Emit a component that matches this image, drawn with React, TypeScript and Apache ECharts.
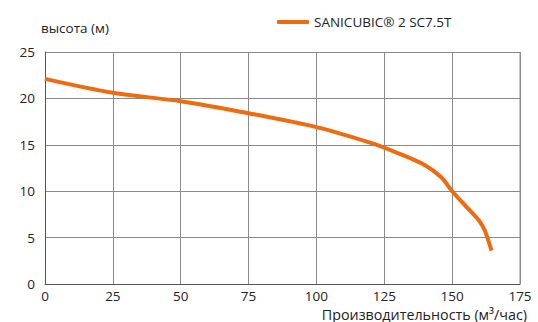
import React, { useEffect, useRef } from "react";
import * as echarts from "echarts";

const flowValues = [0, 25, 50, 75, 100, 120, 130, 140, 146, 150, 155, 160, 162, 164.5];
const headValues = [22.1, 20.6, 19.7, 18.4, 16.9, 15.2, 14.1, 12.8, 11.5, 10.0, 8.4, 6.8, 5.8, 3.6];
const seriesName = "SANICUBIC® 2 SC7.5T";
const yAxisTitle = "высота (м)";
const xAxisTitle = "Производительность (м³/час)";

const FONT = "'Open Sans', 'Noto Sans', sans-serif";

export default function App() {
  const ref = useRef<HTMLDivElement>(null);
  useEffect(() => {
    if (!ref.current) return;
    const chart = echarts.init(ref.current, null, { renderer: "svg" });
    chart.setOption({
      animation: false,
      textStyle: { fontFamily: FONT },
      legend: {
        top: 10,
        left: 272,
        itemWidth: 32,
        itemHeight: 4,
        itemGap: 10,
        icon: "roundRect",
        textStyle: { fontSize: 13.5, color: "#222", fontFamily: FONT },
        data: [{ name: seriesName, icon: "roundRect" }],
      },
      grid: { left: 45, right: 18, top: 52, bottom: 38 },
      xAxis: {
        type: "value",
        min: 0,
        max: 175,
        interval: 25,
        axisLine: { show: true, lineStyle: { color: "#555", width: 1 } },
        axisTick: { show: false },
        axisLabel: { fontSize: 13.5, color: "#222", margin: 5, fontFamily: FONT },
        splitLine: { show: true, lineStyle: { color: "#8a8a8a", width: 1 } },
      },
      yAxis: {
        type: "value",
        min: 0,
        max: 25,
        interval: 5,
        name: yAxisTitle,
        nameLocation: "end",
        nameGap: 17,
        nameTextStyle: { fontSize: 13.5, color: "#222", align: "left", padding: [0, 0, 0, -4], fontFamily: FONT },
        axisLine: { show: true, lineStyle: { color: "#555", width: 1 } },
        axisTick: { show: false },
        axisLabel: { fontSize: 13.5, color: "#222", margin: 10, fontFamily: FONT },
        splitLine: { show: true, lineStyle: { color: "#8a8a8a", width: 1 } },
      },
      graphic: [
        {
          type: "line",
          shape: { x1: 520, y1: 52, x2: 520, y2: 284 },
          style: { stroke: "#8a8a8a", lineWidth: 1 },
        },
        {
          type: "text",
          right: 11,
          top: 307,
          style: { text: xAxisTitle, fontSize: 14.3, fill: "#222", fontFamily: FONT },
        },
      ],
      series: [
        {
          name: seriesName,
          type: "line",
          data: flowValues.map((x, i) => [x, headValues[i]]),
          smooth: 0.3,
          showSymbol: false,
          symbol: "none",
          lineStyle: { color: "#ee6b0f", width: 4 },
          itemStyle: { color: "#ee6b0f" },
        },
      ],
    });
    return () => chart.dispose();
  }, []);
  return <div ref={ref} style={{ width: 538, height: 322, position: "absolute", left: 0, top: 0 }} />;
}
